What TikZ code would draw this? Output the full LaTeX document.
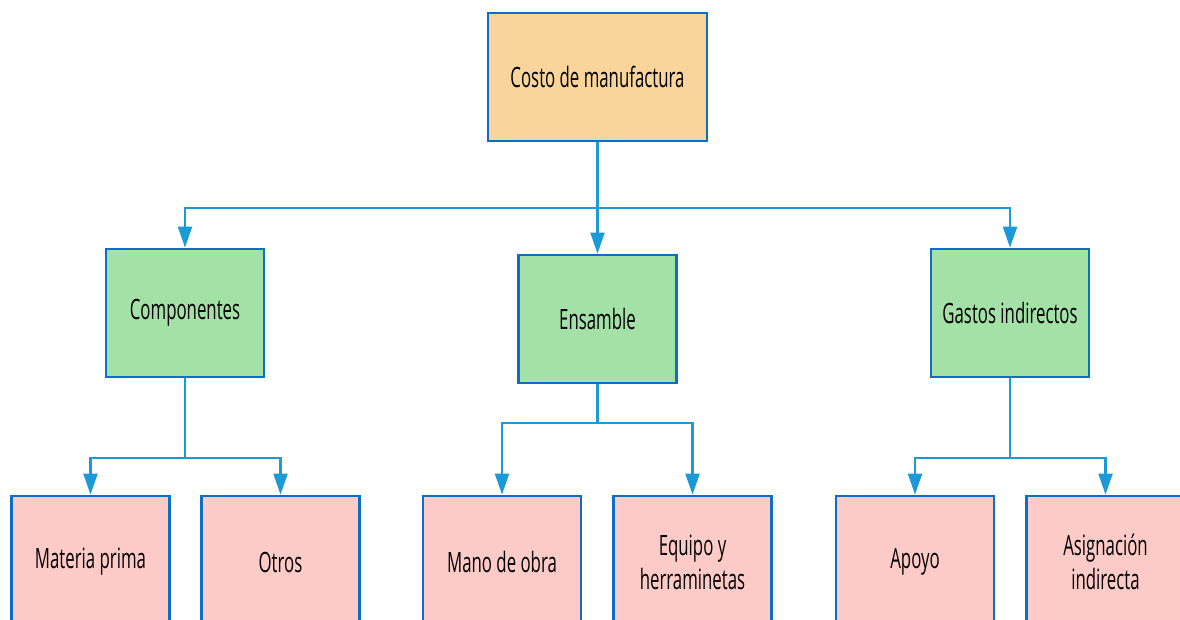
\documentclass[tikz,border=0pt]{standalone}
\usepackage{fontspec}
\setmainfont{Open Sans}[FakeStretch=0.6]
\usetikzlibrary{arrows.meta}
\definecolor{boxline}{HTML}{0B6FC6}
\definecolor{wire}{HTML}{1C9AD8}
\definecolor{topfill}{HTML}{FAD59B}
\definecolor{midfill}{HTML}{A3E1A6}
\definecolor{leaffill}{HTML}{FDCBC7}
\tikzset{
  box/.style={draw=boxline, line width=2.8pt, minimum width=158pt, minimum height=128pt,
    inner sep=0pt, align=center, font=\fontsize{28}{34}\selectfont},
  topbox/.style={box, fill=topfill, minimum width=219pt},
  midbox/.style={box, fill=midfill},
  leafbox/.style={box, fill=leaffill, minimum height=132pt},
  wirestyle/.style={draw=wire, line width=2.2pt},
  link/.style={wirestyle, -{Triangle[length=21pt,width=14pt]}}
}
\begin{document}
\begin{tikzpicture}[x=1pt,y=-1pt]
\useasboundingbox (0,0) rectangle (1180,619);
\begin{scope}
\clip (0,0) rectangle (1180,619);
% top level
\node[topbox] (costo) at (597.5,77) {Costo de manufactura};
% second level
\node[midbox] (comp) at (185,313) {Componentes};
\node[midbox] (ens) at (597.5,319) {Ensamble};
\node[midbox] (gast) at (1010,313) {Gastos indirectos};
% third level
\node[leafbox] (mat) at (90.5,562) {Materia prima};
\node[leafbox] (otros) at (280.5,562) {Otros};
\node[leafbox] (mano) at (502,562) {Mano de obra};
\node[leafbox] (equipo) at (692.5,562) {Equipo y\\herraminetas};
\node[leafbox] (apoyo) at (915,562) {Apoyo};
\node[leafbox] (asig) at (1105.5,562) {Asignación\\indirecta};
% bus rows
\coordinate (busA) at (597.5,208);
\coordinate (busB) at (185,458);
\coordinate (busC) at (597.5,423);
\coordinate (busD) at (1010,458);
% connectors from the top box
\draw[wirestyle] (costo.south) -- (busA);
\draw[link] (busA) -| (comp.north);
\draw[link] (busA) -- (ens.north);
\draw[link] (busA) -| (gast.north);
% connectors from Componentes
\draw[wirestyle] (comp.south) -- (busB);
\draw[link] (busB) -| (mat.north);
\draw[link] (busB) -| (otros.north);
% connectors from Ensamble
\draw[wirestyle] (ens.south) -- (busC);
\draw[link] (busC) -| (mano.north);
\draw[link] (busC) -| (equipo.north);
% connectors from Gastos indirectos
\draw[wirestyle] (gast.south) -- (busD);
\draw[link] (busD) -| (apoyo.north);
\draw[link] (busD) -| (asig.north);
\end{scope}
\end{tikzpicture}
\end{document}
